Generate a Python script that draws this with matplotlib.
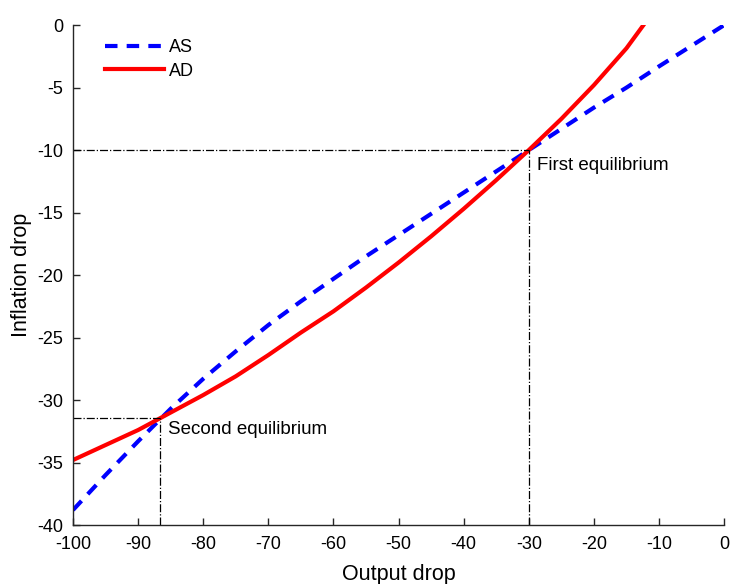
import numpy as np
import matplotlib.pyplot as plt

plt.rcParams["font.family"] = ["Liberation Sans", "DejaVu Sans"]
plt.rcParams["axes.unicode_minus"] = False

# aggregate supply / aggregate demand in (output drop, inflation drop) space
as_x = [-100, -95, -90, -85, -80, -75, -70, -65, -60, -55, -50,
        -45, -40, -35, -30, -25, -20, -15, -10, -5, 0]
as_y = [-38.8, -36.0, -33.3, -30.7, -28.3, -26.1, -24.0, -22.1, -20.3, -18.5, -16.8,
        -15.1, -13.4, -11.7, -10.0, -8.3, -6.6, -5.0, -3.3, -1.65, 0.0]

ad_x = [-100, -95, -90, -85, -80, -75, -70, -65, -60, -55, -50,
        -45, -40, -35, -30, -25, -20, -15, -12.4]
ad_y = [-34.8, -33.6, -32.4, -31.0, -29.6, -28.1, -26.4, -24.6, -22.9, -21.0, -19.0,
        -16.9, -14.7, -12.4, -10.0, -7.5, -4.8, -1.85, 0.0]

eq_x = [-30.0, -86.6]
eq_y = [-10.0, -31.4]
eq_labels = ["First equilibrium", "Second equilibrium"]

xticks = np.arange(-100, 1, 10)
yticks = np.arange(-40, 1, 5)

fig = plt.figure(figsize=(7.3, 5.84), dpi=100)
ax = fig.add_axes([0.1, 0.101, 0.892, 0.856])

ax.plot(as_x, as_y, color="#0000ff", lw=3, linestyle=(0, (3, 2.2)), label="AS")
ax.plot(ad_x, ad_y, color="#ff0000", lw=3, label="AD")

# guide lines down to the axes at each equilibrium
for x0, y0, lab, dy in zip(eq_x, eq_y, eq_labels, [1.2, 0.95]):
    ax.plot([-100, x0], [y0, y0], color="black", lw=0.9, linestyle="-.")
    ax.plot([x0, x0], [-40, y0], color="black", lw=0.9, linestyle="-.")
    ax.text(x0 + 1.2, y0 - dy, lab, fontsize=13.5, va="center", ha="left")

ax.set_xlim(-100, 0)
ax.set_ylim(-40, 0)
ax.set_xticks(xticks)
ax.set_yticks(yticks)
ax.tick_params(direction="in", length=5, width=1, colors="#262626",
               labelsize=13, labelcolor="black")
ax.tick_params(axis="x", pad=8)
ax.tick_params(axis="y", pad=7)
ax.spines["top"].set_visible(False)
ax.spines["right"].set_visible(False)
for s in ("left", "bottom"):
    ax.spines[s].set_color("#262626")
    ax.spines[s].set_linewidth(1)

ax.set_xlabel("Output drop", fontsize=15.5, labelpad=8)
ax.set_ylabel("Inflation drop", fontsize=15.5, labelpad=4)

ax.legend(loc="upper left", frameon=False, fontsize=13, handlelength=3.3,
          handletextpad=0.25, labelspacing=0.36, borderpad=0, borderaxespad=0,
          bbox_to_anchor=(0.049, 0.972))

fig.savefig("out.png", dpi=100)
